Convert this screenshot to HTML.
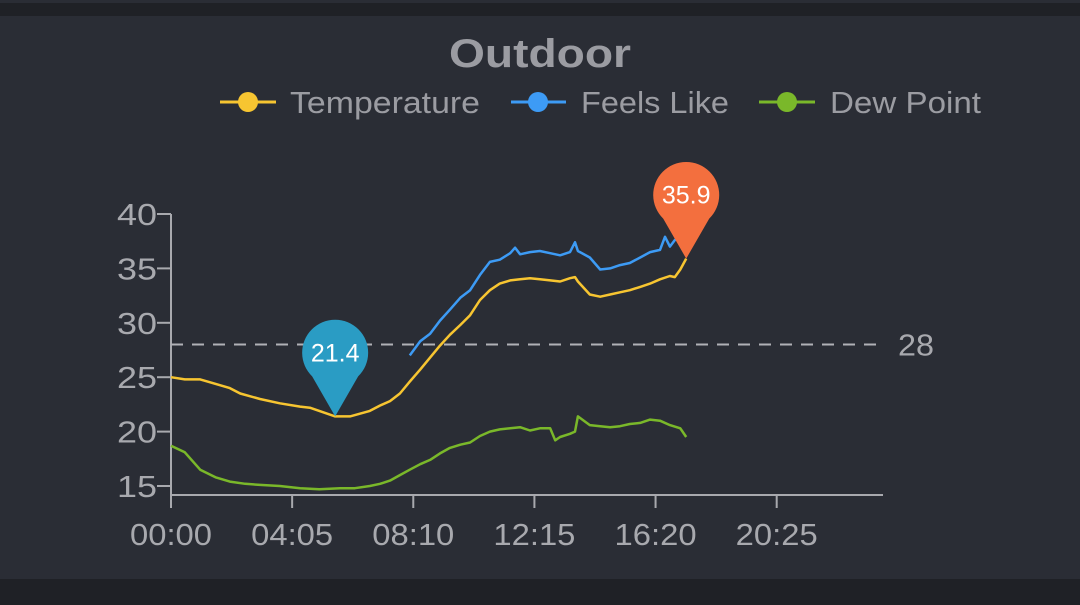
<!DOCTYPE html>
<html><head><meta charset="utf-8"><style>
html,body{margin:0;padding:0;background:#1f2126;}
#wrap{position:relative;width:1080px;height:605px;overflow:hidden;background:#1f2126;}
svg{position:absolute;left:0;top:0;font-family:"Liberation Sans",sans-serif;}
</style></head><body>
<div id="wrap">
<svg id="chart" width="1080" height="605">
<rect x="0" y="0" width="1080" height="3" fill="#2a2d35"/>
<rect x="0" y="16" width="1080" height="563" fill="#2a2d35"/>
<text x="540" y="67" text-anchor="middle" font-size="40" font-weight="bold" fill="#9b9ca2" textLength="182" lengthAdjust="spacingAndGlyphs">Outdoor</text>
<g>
<g>
<line x1="220" y1="102" x2="276" y2="102" stroke="#f7c531" stroke-width="3"/>
<circle cx="248" cy="102" r="10" fill="#f7c531"/>
<text x="290" y="113" font-size="31" fill="#9b9ca2" textLength="190" lengthAdjust="spacingAndGlyphs">Temperature</text>
</g>
<g>
<line x1="511" y1="102" x2="566" y2="102" stroke="#3d9bf5" stroke-width="3"/>
<circle cx="538" cy="102" r="10" fill="#3d9bf5"/>
<text x="581" y="113" font-size="31" fill="#9b9ca2" textLength="148" lengthAdjust="spacingAndGlyphs">Feels Like</text>
</g>
<g>
<line x1="759" y1="102" x2="815" y2="102" stroke="#7ab82a" stroke-width="3"/>
<circle cx="787" cy="102" r="10" fill="#7ab82a"/>
<text x="830" y="113" font-size="31" fill="#9b9ca2" textLength="151" lengthAdjust="spacingAndGlyphs">Dew Point</text>
</g>
</g>
<g id="axes"></g>
<g id="series"></g>
<g id="markers"></g>
</svg>
</div>
<script>
const xTickLabels = ["00:00","04:05","08:10","12:15","16:20","20:25"];
const xTickMinutes = [0,245,490,735,980,1225];
const yTicks = [15,20,25,30,35,40];
const thresholdValue = [28];

const tempTimes = [0,28,59,119,140,180,220,261,281,332,362,402,423,443,463,483,504,524,544,564,585,605,625,645,665,686,706,726,746,767,787,807,817,823,847,868,888,908,928,949,969,989,1009,1019,1030,1042];
const tempValues = [25.0,24.8,24.8,24.0,23.5,23.0,22.6,22.3,22.2,21.4,21.4,21.9,22.4,22.8,23.5,24.6,25.7,26.8,27.9,28.9,29.8,30.7,32.1,33.0,33.6,33.9,34.0,34.1,34.0,33.9,33.8,34.1,34.2,33.8,32.6,32.4,32.6,32.8,33.0,33.3,33.6,34.0,34.3,34.2,34.9,35.9];

const feelsTimes = [483,504,524,544,564,585,605,625,645,665,686,696,706,726,746,767,787,807,817,823,847,868,888,908,928,949,969,989,999,1009,1019,1030,1034];
const feelsValues = [27.0,28.3,29.0,30.2,31.2,32.3,33.0,34.4,35.6,35.8,36.4,36.9,36.3,36.5,36.6,36.4,36.2,36.5,37.4,36.6,36.0,34.9,35.0,35.3,35.5,36.0,36.5,36.7,37.9,37.0,37.6,38.0,36.9];

const dewTimes = [0,28,59,90,119,150,180,220,261,300,342,372,402,423,443,463,483,504,524,544,564,585,605,625,645,665,686,706,726,746,767,777,787,807,817,823,847,868,888,908,928,949,969,989,1009,1030,1042];
const dewValues = [18.7,18.1,16.5,15.8,15.4,15.2,15.1,15.0,14.8,14.7,14.8,14.8,15.0,15.2,15.5,16.0,16.5,17.0,17.4,18.0,18.5,18.8,19.0,19.6,20.0,20.2,20.3,20.4,20.1,20.3,20.3,19.2,19.5,19.8,20.0,21.4,20.6,20.5,20.4,20.5,20.7,20.8,21.1,21.0,20.6,20.3,19.5];

const minMarker = [332, 21.4];
const maxMarker = [1042, 35.9];

const X0=171, X1=883, Y40=214, Y15=486;
function xs(m){return X0 + m*(X1-X0)/1440;}
function ys(v){return Y15 - (v-15)*(Y15-Y40)/25;}
const NS="http://www.w3.org/2000/svg";
function mk(tag, attrs, parent){const e=document.createElementNS(NS,tag);for(const k in attrs)e.setAttribute(k,attrs[k]);parent.appendChild(e);return e;}

const axes=document.getElementById('axes');
const gray="#a8a9ae";
let el;
el=mk('line',{x1:X0,y1:Y40,x2:X0,y2:495,stroke:gray,'stroke-width':2},axes);


el=mk('line',{x1:X0,y1:495,x2:X1,y2:495,stroke:gray,'stroke-width':2},axes);


yTicks.forEach(v=>{
  const y=ys(v);
  let t=mk('line',{x1:X0-14,y1:y,x2:X0,y2:y,stroke:gray,'stroke-width':2},axes);
  
  
  let l=mk('text',{x:X0-14,y:y+11,'text-anchor':'end','font-size':31,fill:gray,textLength:40,lengthAdjust:'spacingAndGlyphs'},axes);
  l.textContent=String(v);
  
  
});
xTickMinutes.forEach((m,i)=>{
  const x=xs(m);
  let t=mk('line',{x1:x,y1:495,x2:x,y2:508,stroke:gray,'stroke-width':2},axes);
  
  
  let l=mk('text',{x:x,y:545,'text-anchor':'middle','font-size':31,fill:gray,textLength:82,lengthAdjust:'spacingAndGlyphs'},axes);
  l.textContent=xTickLabels[i];
  
  
});
const ty=ys(thresholdValue[0]);
el=mk('line',{x1:X0,y1:ty,x2:883,y2:ty,stroke:"#b0b1b6",'stroke-width':2,'stroke-dasharray':'12 9'},axes);


el=mk('text',{x:898,y:ty+11,'font-size':31,fill:gray,textLength:36,lengthAdjust:'spacingAndGlyphs'},axes);
el.textContent=String(thresholdValue[0]);



const series=document.getElementById('series');
function line(times, vals, color, name){
  const d=times.map((t,i)=>(i?'L':'M')+xs(t).toFixed(1)+','+ys(vals[i]).toFixed(1)).join('');
  const p=mk('path',{d:d,fill:'none',stroke:color,'stroke-width':2.5,'stroke-linejoin':'round'},series);
  
  
}
line(dewTimes,dewValues,"#7ab82a",'dew-point-line');
line(feelsTimes,feelsValues,"#3d9bf5",'feels-like-line');
line(tempTimes,tempValues,"#f7c531",'temperature-line');

const markers=document.getElementById('markers');
function pin(m, v, color, name){
  const x=xs(m), y=ys(v);
  const cy=y-64, r=33;
  const g=mk('g',{},markers);
  
  
  mk('path',{d:`M${x},${y} L${x-23},${cy+24} A${r},${r} 0 1 1 ${x+23},${cy+24} Z`,fill:color},g);
  const t=mk('text',{x:x,y:cy+9,'text-anchor':'middle','font-size':25,fill:'#ffffff'},g);
  t.textContent=v.toFixed(1);
}
pin(minMarker[0],minMarker[1],"#2a9cc4",'min-marker');
pin(maxMarker[0],maxMarker[1],"#f36f3e",'max-marker');
</script>
</body></html>
